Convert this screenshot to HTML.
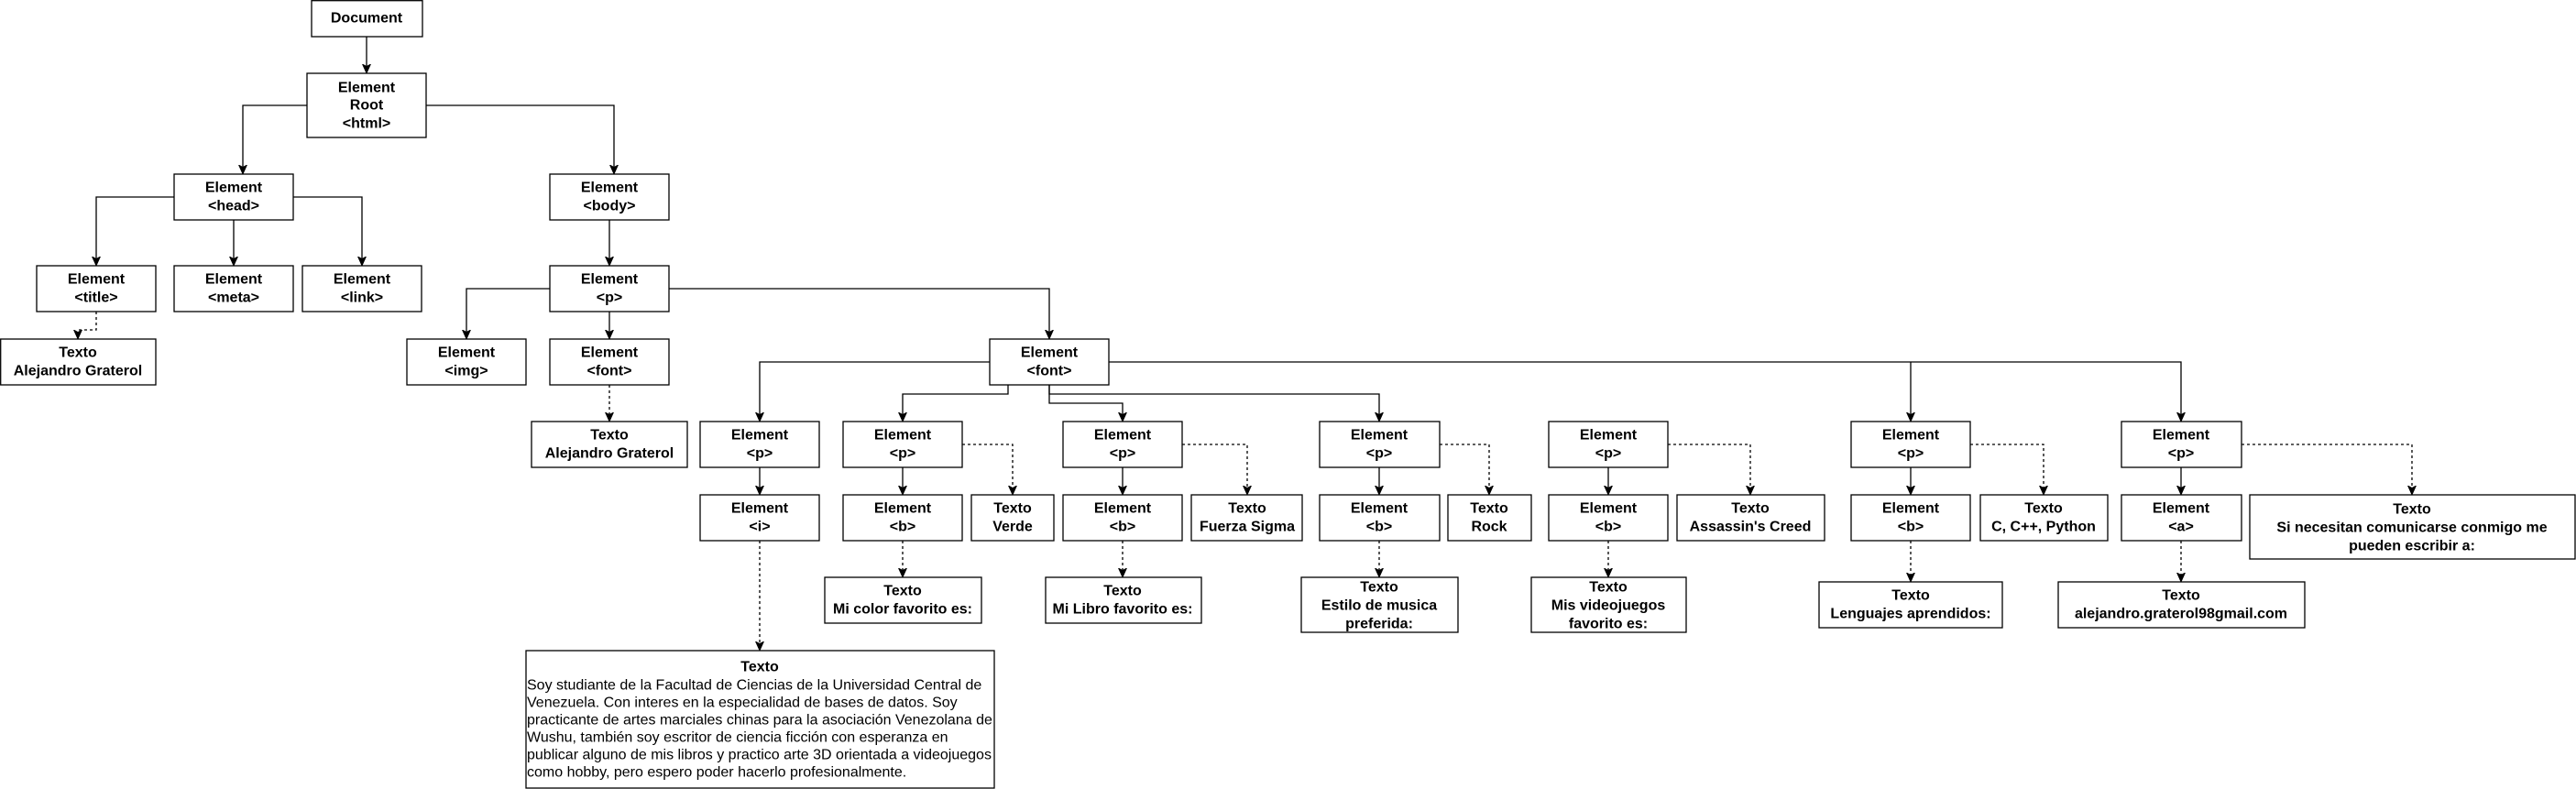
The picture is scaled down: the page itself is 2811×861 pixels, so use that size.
<!DOCTYPE html>
<html><head><meta charset="utf-8"><style>
html,body{margin:0;padding:0;background:#fff;}
svg{display:block;}
text{font-family:"Liberation Sans",Arial,sans-serif;font-size:16px;fill:#000;}
.b{font-weight:bold;text-anchor:middle;dominant-baseline:central;}
.r{dominant-baseline:central;}
rect{fill:#fff;stroke:#000;stroke-width:1.3;}
.l{fill:none;stroke:#000;stroke-width:1.3;marker-end:url(#a);}
.d{fill:none;stroke:#000;stroke-width:1.3;stroke-dasharray:3,3;marker-end:url(#a);}
</style></head><body>
<svg width="2811" height="861" viewBox="0 0 2811 861" xmlns="http://www.w3.org/2000/svg">
<defs><marker id="a" markerUnits="userSpaceOnUse" markerWidth="12" markerHeight="12" refX="10" refY="6" orient="auto" viewBox="0 0 12 12"><path d="M0,1.5 L10,6 L0,10.5 L2.5,6 Z" fill="#000" stroke="#000" stroke-width="0.8"/></marker></defs>

<path class="l" d="M400,40 V80"/>
<path class="l" d="M335,115 H265 V190"/>
<path class="l" d="M465,115 H670 V190"/>
<path class="l" d="M190,215 H105 V290"/>
<path class="l" d="M255,240 V290"/>
<path class="l" d="M320,215 H395 V290"/>
<path class="l" d="M665,240 V290"/>
<path class="l" d="M600,315 H509 V370"/>
<path class="l" d="M665,340 V370"/>
<path class="l" d="M730,315 H1145 V370"/>
<path class="l" d="M1080,395 H829 V460"/>
<path class="l" d="M1100,420 V430 H985 V460"/>
<path class="l" d="M1145,420 V440 H1225 V460"/>
<path class="l" d="M1145,420 V430 H1505 V460"/>
<path class="l" d="M1210,395 H2380 V460"/>
<path class="l" d="M2085,395 V460"/>
<path class="l" d="M829,510 V540"/>
<path class="l" d="M985,510 V540"/>
<path class="l" d="M1225,510 V540"/>
<path class="l" d="M1505,510 V540"/>
<path class="l" d="M1755,510 V540"/>
<path class="l" d="M2085,510 V540"/>
<path class="l" d="M2380,510 V540"/>

<path class="d" d="M105,340 V360 H85 V370"/>
<path class="d" d="M665,420 V460"/>
<path class="d" d="M829,590 V710"/>
<path class="d" d="M985,590 V630"/>
<path class="d" d="M1050,485 H1105 V540"/>
<path class="d" d="M1225,590 V630"/>
<path class="d" d="M1290,485 H1361 V540"/>
<path class="d" d="M1505,590 V630"/>
<path class="d" d="M1571,485 H1625 V540"/>
<path class="d" d="M1755,590 V630"/>
<path class="d" d="M1820,485 H1910 V540"/>
<path class="d" d="M2085,590 V635"/>
<path class="d" d="M2150,485 H2230 V540"/>
<path class="d" d="M2380,590 V635"/>
<path class="d" d="M2446,485 H2632 V540"/>

<rect x="340" y="0.7" width="121" height="39.3"/><text class="b" x="400" y="20">Document</text>
<rect x="335" y="80" width="130" height="70"/><text class="b" x="400" y="96">Element</text><text class="b" x="400" y="115">Root</text><text class="b" x="400" y="135">&lt;html&gt;</text>

<rect x="190" y="190" width="130" height="50"/><text class="b" x="255" y="205">Element</text><text class="b" x="255" y="225">&lt;head&gt;</text>
<rect x="600" y="190" width="130" height="50"/><text class="b" x="665" y="205">Element</text><text class="b" x="665" y="225">&lt;body&gt;</text>

<rect x="40" y="290" width="130" height="50"/><text class="b" x="105" y="305">Element</text><text class="b" x="105" y="325">&lt;title&gt;</text>
<rect x="190" y="290" width="130" height="50"/><text class="b" x="255" y="305">Element</text><text class="b" x="255" y="325">&lt;meta&gt;</text>
<rect x="330" y="290" width="130" height="50"/><text class="b" x="395" y="305">Element</text><text class="b" x="395" y="325">&lt;link&gt;</text>
<rect x="600" y="290" width="130" height="50"/><text class="b" x="665" y="305">Element</text><text class="b" x="665" y="325">&lt;p&gt;</text>

<rect x="0.7" y="370" width="169.3" height="50"/><text class="b" x="85" y="385">Texto</text><text class="b" x="85" y="405">Alejandro Graterol</text>
<rect x="444" y="370" width="130" height="50"/><text class="b" x="509" y="385">Element</text><text class="b" x="509" y="405">&lt;img&gt;</text>
<rect x="600" y="370" width="130" height="50"/><text class="b" x="665" y="385">Element</text><text class="b" x="665" y="405">&lt;font&gt;</text>
<rect x="1080" y="370" width="130" height="50"/><text class="b" x="1145" y="385">Element</text><text class="b" x="1145" y="405">&lt;font&gt;</text>

<rect x="580" y="460" width="170" height="50"/><text class="b" x="665" y="475">Texto</text><text class="b" x="665" y="495">Alejandro Graterol</text>
<rect x="764" y="460" width="130" height="50"/><text class="b" x="829" y="475">Element</text><text class="b" x="829" y="495">&lt;p&gt;</text>
<rect x="920" y="460" width="130" height="50"/><text class="b" x="985" y="475">Element</text><text class="b" x="985" y="495">&lt;p&gt;</text>
<rect x="1160" y="460" width="130" height="50"/><text class="b" x="1225" y="475">Element</text><text class="b" x="1225" y="495">&lt;p&gt;</text>
<rect x="1440" y="460" width="131" height="50"/><text class="b" x="1505" y="475">Element</text><text class="b" x="1505" y="495">&lt;p&gt;</text>
<rect x="1690" y="460" width="130" height="50"/><text class="b" x="1755" y="475">Element</text><text class="b" x="1755" y="495">&lt;p&gt;</text>
<rect x="2020" y="460" width="130" height="50"/><text class="b" x="2085" y="475">Element</text><text class="b" x="2085" y="495">&lt;p&gt;</text>
<rect x="2315" y="460" width="131" height="50"/><text class="b" x="2380" y="475">Element</text><text class="b" x="2380" y="495">&lt;p&gt;</text>

<rect x="764" y="540" width="130" height="50"/><text class="b" x="829" y="555">Element</text><text class="b" x="829" y="575">&lt;i&gt;</text>
<rect x="920" y="540" width="130" height="50"/><text class="b" x="985" y="555">Element</text><text class="b" x="985" y="575">&lt;b&gt;</text>
<rect x="1060" y="540" width="90" height="50"/><text class="b" x="1105" y="555">Texto</text><text class="b" x="1105" y="575">Verde</text>
<rect x="1160" y="540" width="130" height="50"/><text class="b" x="1225" y="555">Element</text><text class="b" x="1225" y="575">&lt;b&gt;</text>
<rect x="1300" y="540" width="121" height="50"/><text class="b" x="1361" y="555">Texto</text><text class="b" x="1361" y="575">Fuerza Sigma</text>
<rect x="1440" y="540" width="131" height="50"/><text class="b" x="1505" y="555">Element</text><text class="b" x="1505" y="575">&lt;b&gt;</text>
<rect x="1580" y="540" width="91" height="50"/><text class="b" x="1625" y="555">Texto</text><text class="b" x="1625" y="575">Rock</text>
<rect x="1690" y="540" width="130" height="50"/><text class="b" x="1755" y="555">Element</text><text class="b" x="1755" y="575">&lt;b&gt;</text>
<rect x="1830" y="540" width="161" height="50"/><text class="b" x="1910" y="555">Texto</text><text class="b" x="1910" y="575">Assassin's Creed</text>
<rect x="2020" y="540" width="130" height="50"/><text class="b" x="2085" y="555">Element</text><text class="b" x="2085" y="575">&lt;b&gt;</text>
<rect x="2161" y="540" width="139" height="50"/><text class="b" x="2230" y="555">Texto</text><text class="b" x="2230" y="575">C, C++, Python</text>
<rect x="2315" y="540" width="131" height="50"/><text class="b" x="2380" y="555">Element</text><text class="b" x="2380" y="575">&lt;a&gt;</text>
<rect x="2455" y="540" width="355" height="70"/><text class="b" x="2632" y="556">Texto</text><text class="b" x="2632" y="576">Si necesitan comunicarse conmigo me</text><text class="b" x="2632" y="596">pueden escribir a:</text>

<rect x="900" y="630" width="171" height="50"/><text class="b" x="985" y="645">Texto</text><text class="b" x="985" y="665">Mi color favorito es:</text>
<rect x="1141" y="630" width="170" height="50"/><text class="b" x="1225" y="645">Texto</text><text class="b" x="1225" y="665">Mi Libro favorito es:</text>
<rect x="1420" y="630" width="171" height="60"/><text class="b" x="1505" y="641">Texto</text><text class="b" x="1505" y="661">Estilo de musica</text><text class="b" x="1505" y="681">preferida:</text>
<rect x="1671" y="630" width="169" height="60"/><text class="b" x="1755" y="641">Texto</text><text class="b" x="1755" y="661">Mis videojuegos</text><text class="b" x="1755" y="681">favorito es:</text>
<rect x="1985" y="635" width="200" height="50"/><text class="b" x="2085" y="650">Texto</text><text class="b" x="2085" y="670">Lenguajes aprendidos:</text>
<rect x="2246" y="635" width="269" height="50"/><text class="b" x="2380" y="650">Texto</text><text class="b" x="2380" y="670">alejandro.graterol98gmail.com</text>

<rect x="574" y="710" width="511" height="150"/><text class="b" x="829" y="728">Texto</text>
<text class="r" x="575" y="748">Soy studiante de la Facultad de Ciencias de la Universidad Central de</text>
<text class="r" x="575" y="767">Venezuela. Con interes en la especialidad de bases de datos. Soy</text>
<text class="r" x="575" y="786">practicante de artes marciales chinas para la asociación Venezolana de</text>
<text class="r" x="575" y="805">Wushu, también soy escritor de ciencia ficción con esperanza en</text>
<text class="r" x="575" y="824">publicar alguno de mis libros y practico arte 3D orientada a videojuegos</text>
<text class="r" x="575" y="843">como hobby, pero espero poder hacerlo profesionalmente.</text>
</svg>
</body></html>
